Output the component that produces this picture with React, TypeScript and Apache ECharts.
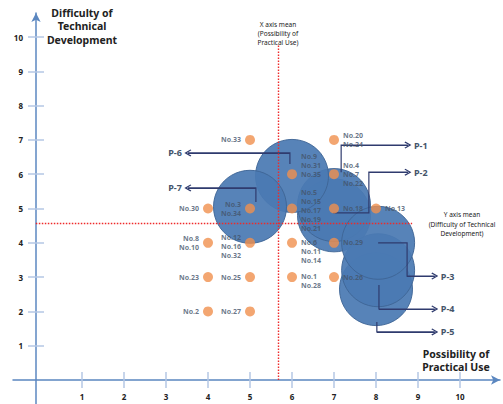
import React, { useEffect, useRef } from "react";
import * as echarts from "echarts";

// ---- data ----
const tickValues = [1, 2, 3, 4, 5, 6, 7, 8, 9, 10];

const pointX = [5, 7, 6, 7, 5, 4, 6, 7, 8, 4, 5, 6, 7, 4, 5, 6, 7, 4, 5];
const pointY = [7, 7, 6, 6, 5, 5, 5, 5, 5, 4, 4, 4, 4, 3, 3, 3, 3, 2, 2];
const pointLabels = [
  "No.33",
  "No.20\nNo.24",
  "No.9\nNo.31\nNo.35",
  "No.4\nNo.7\nNo.22",
  "No.3\nNo.34",
  "No.30",
  "No.5\nNo.15\nNo.17\nNo.19\nNo.21",
  "No.18",
  "No.13",
  "No.8\nNo.10",
  "No.12\nNo.16\nNo.32",
  "No.6\nNo.11\nNo.14",
  "No.29",
  "No.23",
  "No.25",
  "No.1\nNo.28",
  "No.26",
  "No.2",
  "No.27",
];

const groupNames = ["P-2", "P-1", "P-6", "P-7", "P-5", "P-4", "P-3"];
const groupX = [7.0, 7.0, 6.0, 5.0, 8.0, 8.05, 8.05];
const groupY = [4.8, 5.1, 5.95, 5.05, 2.65, 3.2, 4.0];

const pathP1 = [[7.17, 6.06], [7.17, 6.85], [8.76, 6.85]];
const pathP2 = [[6.98, 4.87], [7.83, 4.87], [7.83, 6.06], [8.76, 6.06]];
const pathP3 = [[8.05, 4.0], [8.74, 4.0], [8.74, 3.03], [9.4, 3.03]];
const pathP4 = [[8.07, 2.77], [8.07, 2.07], [9.4, 2.07]];
const pathP5 = [[8.02, 1.69], [8.02, 1.4], [9.4, 1.4]];
const pathP6 = [[5.95, 6.3], [5.95, 6.62], [3.52, 6.62]];
const pathP7 = [[5.14, 5.19], [5.14, 5.6], [3.52, 5.6]];
const pathNames = ["P-1", "P-2", "P-3", "P-4", "P-5", "P-6", "P-7"];
const paths = [pathP1, pathP2, pathP3, pathP4, pathP5, pathP6, pathP7];

const meanX = 5.67;
const meanY = 4.58;
const meanXLineTop = 9.77;
const meanYLineStart = -0.1;
const meanYLineEnd = 8.86;

// ---- styles (label placement) ----
const labelSide = [
  "left", "right", "right", "right", "left", "left", "right", "right", "right",
  "left", "left", "right", "right", "left", "left", "right", "right", "left", "left",
];
const labelShift = [0, 0, -9, 0, 0, 0, 2, 0, 0, 0, 4, 9, 0, 0, 0, 4, 0, 0, 0];

const AXIS_BLUE = "#5b87c0";
const TICK_BLUE = "#b4c7e4";
const TEXT_DARK = "#44546a";
const NAVY = "#2f3b6e";
const MEAN_RED = "#ee2a2a";
const CHEVRON = "path://M0,10 L10,0 L20,10 L17.5,11.5 L10,4 L2.5,11.5 Z";

export default function App() {
  const ref = useRef<HTMLDivElement>(null);
  useEffect(() => {
    if (!ref.current) return;
    const chart = echarts.init(ref.current, null, { renderer: "svg" });
    const font = "'Noto Sans', 'DejaVu Sans', sans-serif";

    const xMin = -0.643;
    const xMax = 10.952;
    const yMin = -0.7;
    const yMax = 10.7;

    const bubbleData = groupNames.map((n, i) => ({ name: n, value: [groupX[i], groupY[i]] }));
    const dotData = pointX.map((x, i) => ({
      value: [x, pointY[i]],
      label: {
        position: labelSide[i],
        offset: [0, labelShift[i]],
        formatter: pointLabels[i],
      },
    }));

    const bodySegs = paths.map((p) => ({ coords: p }));
    const arrowSegs = paths.map((p, i) => ({
      name: pathNames[i],
      coords: [p[p.length - 2], p[p.length - 1]],
    }));

    const tickStyle = { color: TICK_BLUE, width: 1.5 };
    const meanStyle = { color: MEAN_RED, type: [1.5, 1.5], width: 1.4, opacity: 1 };

    const option: any = {
      animation: false,
      backgroundColor: "#ffffff",
      grid: {
        left: 13,
        right: 3,
        top: 13,
        bottom: 0,
        containLabel: false,
        outerBoundsMode: "none",
      },
      xAxis: [
        {
          type: "value",
          min: xMin,
          max: xMax,
          position: "bottom",
          axisLine: {
            show: true,
            onZero: true,
            symbol: ["none", "arrow"],
            symbolSize: [7, 9],
            lineStyle: { color: AXIS_BLUE, width: 1.5 },
          },
          axisTick: { show: true, length: 8, customValues: tickValues, lineStyle: tickStyle },
          axisLabel: { show: false },
          splitLine: { show: false },
        },
        {
          type: "value",
          min: xMin,
          max: xMax,
          position: "top",
          axisLine: { show: false, onZero: true },
          axisTick: { show: true, length: 8, customValues: tickValues, lineStyle: tickStyle },
          axisLabel: { show: false },
          splitLine: { show: false },
        },
        {
          type: "value",
          min: xMin,
          max: xMax,
          position: "bottom",
          offset: -24,
          axisLine: { show: false, onZero: false },
          axisTick: { show: false },
          axisLabel: {
            show: true,
            customValues: tickValues,
            margin: 12,
            fontSize: 8,
            fontWeight: "bold",
            color: "#222",
            fontFamily: font,
          },
          splitLine: { show: false },
        },
      ],
      yAxis: [
        {
          type: "value",
          min: yMin,
          max: yMax,
          position: "left",
          offset: -23,
          axisLine: {
            show: true,
            onZero: false,
            symbol: ["none", "arrow"],
            symbolSize: [7, 9],
            lineStyle: { color: AXIS_BLUE, width: 1.5 },
          },
          axisTick: { show: true, length: 8, customValues: tickValues, lineStyle: tickStyle },
          axisLabel: {
            show: true,
            customValues: tickValues,
            margin: 13,
            fontSize: 8,
            fontWeight: "bold",
            color: "#222",
            fontFamily: font,
          },
          splitLine: { show: false },
        },
        {
          type: "value",
          min: yMin,
          max: yMax,
          position: "right",
          offset: -464,
          axisLine: { show: false, onZero: false },
          axisTick: { show: true, length: 8, customValues: tickValues, lineStyle: tickStyle },
          axisLabel: { show: false },
          splitLine: { show: false },
        },
      ],
      series: [
        {
          type: "scatter",
          name: "groups",
          z: 2,
          symbolSize: 73,
          data: bubbleData,
          itemStyle: { color: "#4a7ab3", borderColor: "#3e6596", borderWidth: 1, opacity: 0.93 },
          silent: true,
        },
        {
          type: "scatter",
          name: "meanX",
          z: 3,
          data: [],
          markLine: {
            silent: true,
            symbol: "none",
            label: { show: false },
            lineStyle: meanStyle,
            data: [[{ coord: [meanX, 0] }, { coord: [meanX, meanXLineTop] }]],
          },
        },
        {
          type: "scatter",
          name: "meanY",
          z: 3,
          data: [],
          markLine: {
            silent: true,
            symbol: "none",
            label: { show: false },
            lineStyle: meanStyle,
            data: [[{ coord: [meanYLineStart, meanY] }, { coord: [meanYLineEnd, meanY] }]],
          },
        },
        {
          type: "lines",
          coordinateSystem: "cartesian2d",
          polyline: true,
          z: 4,
          silent: true,
          lineStyle: { color: NAVY, width: 1.2, opacity: 1 },
          data: bodySegs,
        },
        {
          type: "lines",
          coordinateSystem: "cartesian2d",
          z: 4,
          silent: true,
          symbol: ["none", CHEVRON],
          symbolSize: [6, 7],
          lineStyle: { color: NAVY, width: 1.2, opacity: 1 },
          label: {
            show: true,
            position: "end",
            distance: 6,
            formatter: "{b}",
            fontSize: 9,
            fontWeight: "bold",
            color: TEXT_DARK,
            fontFamily: font,
          },
          data: arrowSegs,
        },
        {
          type: "scatter",
          name: "items",
          z: 5,
          symbolSize: 10,
          itemStyle: { color: "#f0904d" },
          label: {
            show: true,
            fontSize: 7,
            fontWeight: "bold",
            lineHeight: 9,
            color: TEXT_DARK,
            fontFamily: font,
            distance: 4,
          },
          data: dotData,
        },
      ],
      graphic: [
        {
          type: "text",
          x: 82,
          y: 6,
          z: 10,
          style: {
            text: "Difficulty of\nTechnical\nDevelopment",
            font: `bold 10.5px ${font}`,
            lineHeight: 13.5,
            align: "center",
            fill: "#222",
          },
        },
        {
          type: "text",
          x: 456,
          y: 347,
          z: 10,
          style: {
            text: "Possibility of\nPractical Use",
            font: `bold 10.5px ${font}`,
            lineHeight: 13.5,
            align: "center",
            fill: "#222",
          },
        },
        {
          type: "text",
          x: 278,
          y: 20,
          z: 10,
          style: {
            text: "X axis mean\n(Possibility of\nPractical Use)",
            font: `6.5px ${font}`,
            lineHeight: 9,
            align: "center",
            fill: "#222",
          },
        },
        {
          type: "text",
          x: 462,
          y: 210,
          z: 10,
          style: {
            text: "Y axis mean\n(Difficulty of Technical\nDevelopment)",
            font: `6.5px ${font}`,
            lineHeight: 9.5,
            align: "center",
            fill: "#222",
          },
        },
      ],
    };
    chart.setOption(option);
    return () => chart.dispose();
  }, []);
  return <div ref={ref} style={{ position: "fixed", left: 0, top: 0, width: 503, height: 404 }} />;
}
